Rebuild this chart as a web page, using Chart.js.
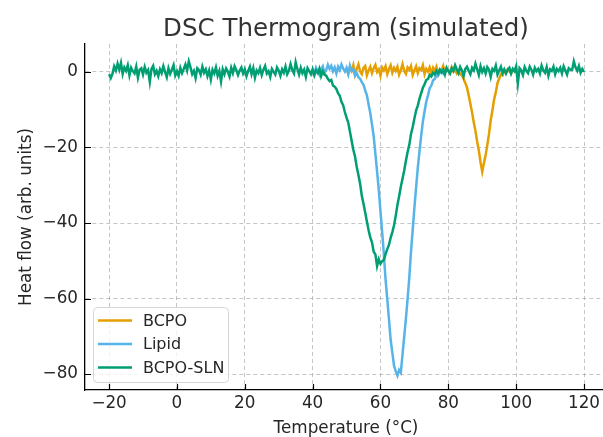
<!DOCTYPE html>
<html>
<head>
<meta charset="utf-8">
<script src="https://cdn.jsdelivr.net/npm/chart.js@4.4.0/dist/chart.umd.min.js"></script>
<style>
  html, body { margin: 0; padding: 0; background: #fff; }
</style>
</head>
<body>
<canvas id="dsc" width="603" height="437"></canvas>
<script>
// series labels + colours
const seriesNames = ["BCPO", "Lipid", "BCPO-SLN"];
const seriesColors = ["#E69F00", "#56B4E9", "#009E73"];

// every series is sampled each 0.5 °C, starting at these temperatures
const tempStep = 0.5;
const bcpoStart = 50;
const lipidStart = 40;
const slnStart = -20;

// heat flow (arb. units)
const bcpoHeat = [
  0.5, -0.4, 1.2, 0.3, 1.8, -0.7, 0.8, 2.0, 0.1, -0.6,
  1.1, 1.6, -0.9, 0.4, 1.4, -0.3, 1.0, 1.9, 0.0, 0.7,
  -1.0, 1.2, 0.4, 1.5, -0.6, 0.8, 1.8, -0.2, 1.1, 0.3,
  1.4, -0.7, 0.5, 2.1, 0.3, -0.5, 1.2, 0.6, 1.6, -0.8,
  0.4, 1.5, -0.3, 1.0, 0.5, 1.8, -0.6, 0.8, 0.1, 1.2,
  -0.4, 1.1, 0.3, 1.4, -0.7, 0.6, 0.4, 1.6, -0.2, 0.8,
  0.5, -0.3, 1.2, 0.1, 0.6, -0.4, 0.3, -0.6, -0.9, -1.8,
  -2.9, -4.1, -6.2, -8.4, -10.7, -13.3, -15.6, -18.4, -20.8, -23.9,
  -26.4, -24.1, -22.0, -19.3, -16.4, -12.8, -10.2, -7.3, -5.4, -2.9,
  -1.8, -0.6, -0.9, 0.4, -0.2, 0.7, 0.1, -0.4, 0.6, 0.2,
  -0.1
];

const lipidHeat = [
  0.4, -0.6, 1.1, 0.1, -0.8, 0.7, 1.5, -0.3, 0.5, 1.9,
  0.8, 1.6, 0.2, 1.2, -0.4, 1.4, 0.5, 2.0, 0.9, 0.1,
  1.1, -0.6, 1.7, 0.3, 0.8, -1.0, -0.3, -1.4, -1.8, -2.7,
  -3.4, -4.9, -6.2, -8.6, -10.9, -13.9, -17.0, -21.6, -26.3, -31.2,
  -36.9, -42.4, -48.2, -54.9, -60.1, -65.4, -70.9, -74.3, -77.8, -79.2,
  -80.4, -78.9, -79.6, -74.8, -70.1, -65.3, -60.0, -54.4, -47.6, -41.9,
  -36.0, -30.6, -25.4, -21.0, -16.9, -13.1, -10.4, -7.9, -6.2, -4.3,
  -3.6, -2.2, -1.9, -0.8, -1.0, -0.2, 0.5, -0.4, 0.3, 0.9,
  0.2
];

const slnHeat = [
  -0.6, -1.6, -0.5, 1.5, 0.4, 2.2, 0.6, 2.4, -0.5, 1.2,
  0.3, 1.8, -0.9, 1.1, 0.2, -0.4, 1.4, -1.5, 0.6, 1.0,
  -0.7, 1.3, -0.2, 0.5, -2.6, 0.8, 1.6, -0.6, 0.3, -1.1,
  0.7, -0.3, 1.5, 0.0, -1.4, 1.0, -0.5, 0.6, 1.8, -0.9,
  0.2, -1.0, 1.1, -0.3, 0.8, 2.0, 0.4, 2.8, 1.2, -0.6,
  0.3, -1.6, 1.0, 0.5, -0.7, 1.4, -0.2, 0.7, -1.1, 0.4,
  -2.0, 0.6, -0.4, 1.2, -1.0, 0.3, -2.5, 0.7, -0.6, 0.9,
  0.1, -1.2, 1.1, -0.3, 1.5, 0.5, -0.8, 0.4, 1.2, -0.4,
  0.7, -1.1, 0.3, 1.4, -0.6, 1.0, -1.5, 0.4, -0.3, 1.1,
  -0.8, 0.6, 1.6, -0.4, 0.2, -1.3, 0.8, 0.0, -0.7, 1.2,
  0.4, -1.0, 0.7, -0.2, 1.4, -0.6, 0.3, 2.1, 0.5, -0.4,
  2.6, 0.8, -0.7, 1.1, -0.3, 0.6, -1.3, 1.0, 0.2, -0.6,
  0.7, -0.9, 0.4, -0.3, 0.9, -1.1, 0.2, -0.7,
  -1.0, -1.8, -2.4, -2.1, -3.6, -3.9, -4.5, -5.6, -6.3, -7.9,
  -8.8, -10.6, -12.1, -13.4, -15.8, -18.2, -20.6, -22.4, -25.1, -27.3,
  -29.6, -32.8, -34.9, -37.2, -39.6, -41.9, -43.8, -45.1, -47.6, -48.3,
  -51.4, -49.6, -50.8, -50.1, -49.7, -48.2, -46.9, -45.8, -43.9, -42.4,
  -40.6, -38.1, -35.2, -32.9, -30.4, -28.3, -26.1, -23.5, -21.2, -19.3,
  -16.4, -14.6, -12.3, -10.2, -8.9, -7.1, -5.6, -4.2, -3.3, -2.1,
  -1.9, -0.8, -1.2, -0.2, -0.7, 0.3, -0.4, 0.6, -0.1,
  0.6, -0.7, 1.1, 0.2, -0.4, 1.0, 0.3, 1.8,
  0.7, -0.3, 1.3, 0.4, -1.1, 0.8, 1.4, 0.3,
  -0.6, 1.1, 0.4, 2.2, 0.7, -0.8, 1.5, 0.0,
  1.0, -0.4, 1.3, 0.6, -1.3, 0.8, 0.3, 1.7,
  -0.7, 0.4, 1.4, -0.3, 0.7, -0.4, 0.6, 1.1,
  -0.4, 0.8, 0.2, 1.5, -3.0, 1.0, 0.4, -0.8,
  1.3, 0.3, -0.3, 1.4, 0.6, -0.7, 1.1, 0.2,
  0.8, -0.4, 1.7, 0.4, -0.2, 1.3, -1.0, 0.7,
  0.3, 1.4, -0.6, 0.8, 0.2, 1.1, -0.4, 1.5,
  0.4, -0.7, 1.0, 0.6, 0.5, 2.8, 1.2, 0.3,
  1.6, -0.2, 0.8, 0.0
];

// axes
const xTickValues = [-20, 0, 20, 40, 60, 80, 100, 120];
const yTickValues = [-80, -60, -40, -20, 0];
const chartTitle = "DSC Thermogram (simulated)";
const xTitle = "Temperature (°C)";
const yTitle = "Heat flow (arb. units)";

const FONT = "'DejaVu Sans', sans-serif";
const TEXT = "#262626";

function toPoints(start, values) {
  return values.map((v, i) => ({ x: start + i * tempStep, y: v }));
}

function fmtTick(v) {
  return v < 0 ? "\u2212" + Math.abs(v) : String(v);
}

// title, axis titles, inward tick marks and the legend box
const decorations = {
  id: "decorations",
  afterDraw(chart) {
    const ctx = chart.ctx;
    const area = chart.chartArea;
    const xs = chart.scales.x;
    const ys = chart.scales.y;
    ctx.save();

    // inward ticks
    ctx.strokeStyle = "#000";
    ctx.lineWidth = 1.2;
    ctx.beginPath();
    xTickValues.forEach((v) => {
      const px = Math.round(xs.getPixelForValue(v)) + 0.5;
      ctx.moveTo(px, area.bottom);
      ctx.lineTo(px, area.bottom - 6);
    });
    yTickValues.forEach((v) => {
      const py = Math.round(ys.getPixelForValue(v)) + 0.5;
      ctx.moveTo(area.left, py);
      ctx.lineTo(area.left + 6, py);
    });
    ctx.stroke();

    // titles
    ctx.fillStyle = "#333";
    ctx.textAlign = "center";
    ctx.textBaseline = "alphabetic";
    ctx.font = "24.5px " + FONT;
    ctx.fillText(chartTitle, 346, 36);
    ctx.fillStyle = TEXT;
    ctx.font = "16.8px " + FONT;
    ctx.fillText(xTitle, 346, 433);
    ctx.save();
    ctx.translate(31, (area.top + area.bottom) / 2);
    ctx.rotate(-Math.PI / 2);
    ctx.fillText(yTitle, 0, 0);
    ctx.restore();

    // legend
    const bx = 93, by = 307, bw = 135, bh = 75;
    ctx.beginPath();
    ctx.roundRect(bx + 0.5, by + 0.5, bw, bh, 4);
    ctx.fillStyle = "rgba(255,255,255,0.8)";
    ctx.fill();
    ctx.strokeStyle = "#d6d6d6";
    ctx.lineWidth = 1;
    ctx.stroke();
    ctx.textAlign = "left";
    ctx.textBaseline = "middle";
    ctx.font = "16px " + FONT;
    seriesNames.forEach((name, i) => {
      const ly = 320.5 + i * 23.5;
      ctx.strokeStyle = seriesColors[i];
      ctx.lineWidth = 2.5;
      ctx.beginPath();
      ctx.moveTo(98, ly);
      ctx.lineTo(132, ly);
      ctx.stroke();
      ctx.fillStyle = TEXT;
      ctx.fillText(name, 143, ly + 1);
    });
    ctx.restore();
  }
};

const starts = [bcpoStart, lipidStart, slnStart];
const heats = [bcpoHeat, lipidHeat, slnHeat];

const datasets = seriesNames.map((name, i) => ({
  label: name,
  data: toPoints(starts[i], heats[i]),
  borderColor: seriesColors[i],
  backgroundColor: seriesColors[i],
  borderWidth: 2.5,
  pointRadius: 0,
  tension: 0,
  fill: false,
  order: 2 - i
}));

const gridOpts = {
  color: "rgba(150,150,150,0.55)",
  lineWidth: 1,
  drawTicks: false
};

new Chart(document.getElementById("dsc"), {
  type: "line",
  data: { datasets: datasets },
  options: {
    responsive: false,
    animation: false,
    devicePixelRatio: 1,
    layout: { padding: { top: 44, right: 0, left: 0, bottom: 0 } },
    plugins: {
      legend: { display: false },
      title: { display: false },
      tooltip: { enabled: false }
    },
    scales: {
      x: {
        type: "linear",
        min: -27.1,
        max: 125.6,
        afterBuildTicks: (s) => { s.ticks = xTickValues.map((v) => ({ value: v })); },
        afterFit: (s) => { s.height = 47; s.paddingLeft = 0; s.paddingRight = 0; },
        ticks: {
          font: { family: FONT, size: 16.8 },
          color: TEXT,
          padding: 4,
          maxRotation: 0,
          autoSkip: false,
          callback: fmtTick
        },
        grid: gridOpts,
        border: { display: true, color: "#000", width: 1.3, dash: [4, 3] }
      },
      y: {
        type: "linear",
        min: -84.2,
        max: 7.4,
        afterBuildTicks: (s) => { s.ticks = yTickValues.map((v) => ({ value: v })); },
        afterFit: (s) => { s.width = 85; },
        ticks: {
          font: { family: FONT, size: 16.8 },
          color: TEXT,
          padding: 7,
          autoSkip: false,
          callback: fmtTick
        },
        grid: gridOpts,
        border: { display: true, color: "#000", width: 1.3, dash: [4, 3] }
      }
    }
  },
  plugins: [decorations]
});
</script>
</body>
</html>
